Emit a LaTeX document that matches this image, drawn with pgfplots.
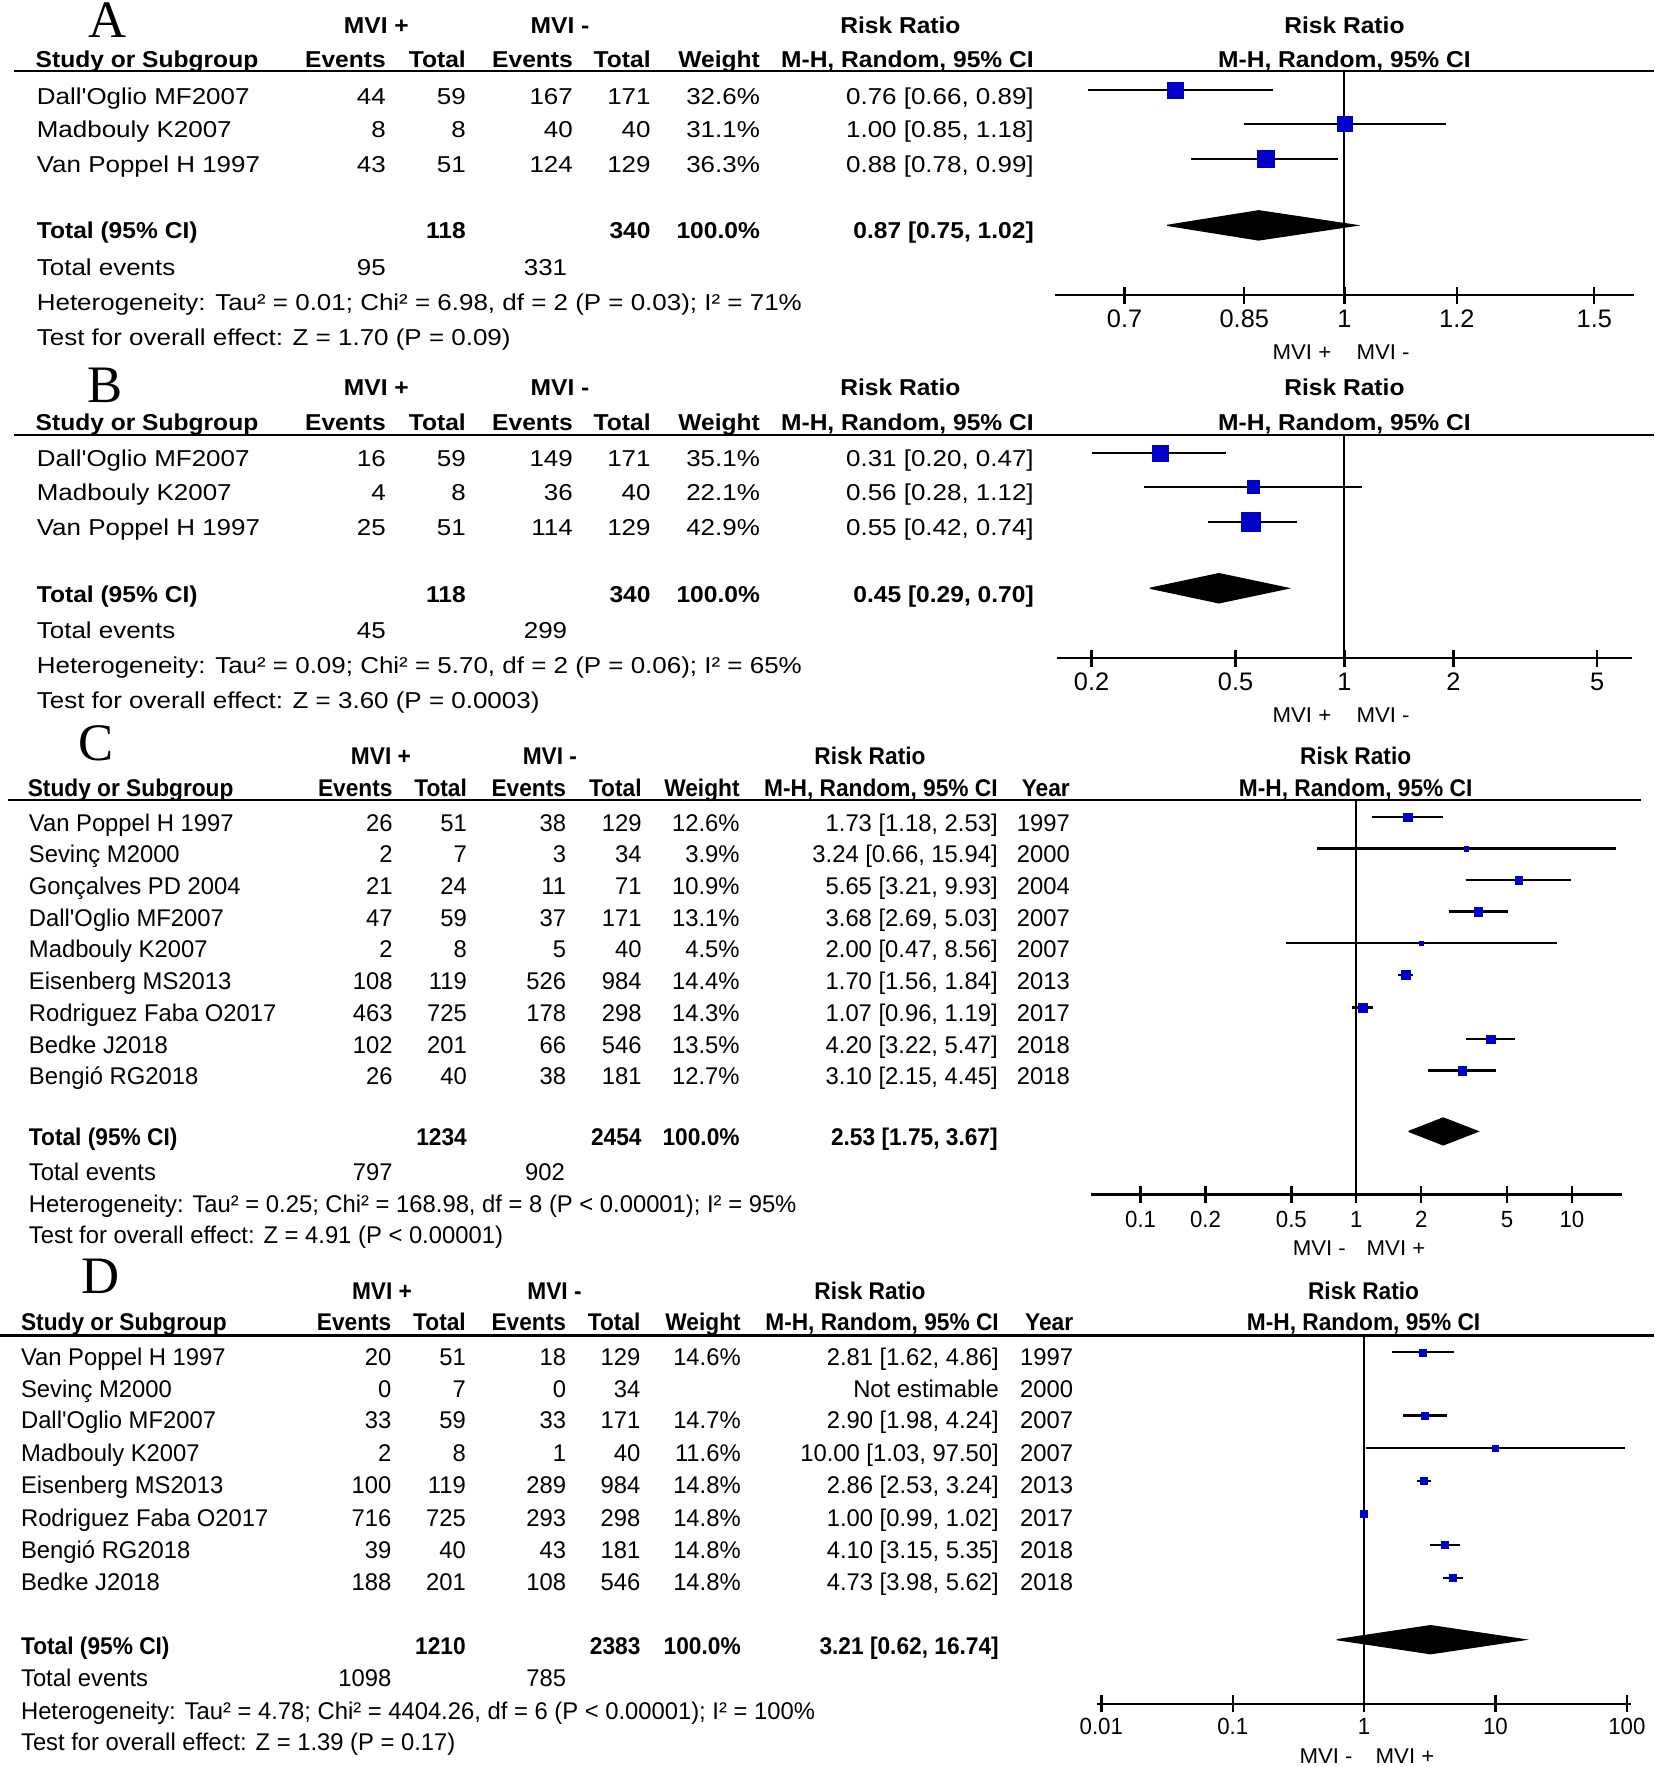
\documentclass[border=0pt]{standalone}
\usepackage{pgfplots}
\pgfplotsset{compat=1.18}
\usepackage{fontspec}
\setmainfont{Liberation Sans}
\newfontfamily\fA[FakeStretch=1.13,Ligatures=TeXOff]{Liberation Sans}
\newfontfamily\fAb[FakeStretch=1.07,Ligatures=TeXOff]{Liberation Sans}
\newfontfamily\fC[FakeStretch=0.985,Ligatures=TeXOff]{Liberation Sans}
\newfontfamily\fCb[FakeStretch=0.94,Ligatures=TeXOff]{Liberation Sans}
\newfontfamily\fT{Liberation Sans}
\newfontfamily\fS[FakeStretch=0.95]{Liberation Sans}
\newfontfamily\fM[FakeStretch=1.04]{Liberation Sans}
\newfontfamily\fL{Liberation Serif}
\definecolor{sqblue}{RGB}{0,0,200}

\newcommand\hA{\fA\fontsize{5.8}{7}\selectfont}
\newcommand\bA{\fAb\bfseries\fontsize{5.8}{7}\selectfont}
\newcommand\hC{\fC\fontsize{6.1}{7}\selectfont}
\newcommand\bC{\fCb\bfseries\fontsize{6.1}{7}\selectfont}
\newcommand\tkA{\fT\fontsize{6.4}{7}\selectfont}
\newcommand\tkC{\fS\fontsize{5.9}{7}\selectfont}
\newcommand\mvi{\fM\fontsize{5.4}{6}\selectfont}
\newcommand\letter{\fL\fontsize{13.3}{14}\selectfont}

% text helpers, y = visual centre of the line in pixel units
\newcommand\Lt[3]{\node[anchor=base west,inner sep=0pt] at (#1,#2+\bo) {#3};}
\newcommand\Rt[3]{\node[anchor=base east,inner sep=0pt] at (#1,#2+\bo) {#3};}
\newcommand\Ct[3]{\node[anchor=base,inner sep=0pt] at (#1,#2+\bo) {#3};}
\newcommand\rowx[9]{\Lt{\cn}{#1}{#2}\Rt{\ca}{#1}{#3}\Rt{\cb}{#1}{#4}\Rt{\cc}{#1}{#5}%
  \Rt{\cd}{#1}{#6}\Rt{\ce}{#1}{#7}\Rt{\cf}{#1}{#8}\Rt{\cg}{#1}{#9}}

% one study: y, lower, upper, estimate, half side of square (pt)
\newcommand\study[5]{%
  \addplot[black,line width=0.6pt] coordinates {(#2,-#1) (#3,-#1)};
  \addplot[only marks,mark=square*,mark size=#5pt,
    mark options={fill=sqblue,draw=sqblue,line width=0.1pt}] coordinates {(#4,-#1)};
}

\pgfplotsset{
  scale only axis, enlargelimits=false, clip=false,
  axis x line*=bottom, axis y line=none, ytick=\empty,
  axis line style={line width=0.6pt},
  tick align=center, major tick length=1.5mm,
  xtick style={line width=0.6pt,black}, xminorticks=false,
  xticklabel style={anchor=base,inner sep=0pt},
}

\begin{document}
\begin{tikzpicture}

%% ---------------- A ----------------
\begin{scope}[x=0.1mm,y=-0.1mm,font=\hA]
\def\bo{7.3}
\def\cn{32}\def\ca{343}\def\cb{414}\def\cc{509}\def\cd{578}\def\ce{675}\def\cf{918}\def\cg{0}
\node[anchor=base,inner sep=0pt,font=\letter] at (95,33.5) {A};
\Ct{334}{22}{\bA MVI +}\Ct{497}{22}{\bA MVI -}\Ct{799}{22}{\bA Risk Ratio}\Ct{1193}{22}{\bA Risk Ratio}
\Lt{31}{53}{\bA Study or Subgroup}\Rt{\ca}{53}{\bA Events}\Rt{\cb}{53}{\bA Total}
\Rt{\cc}{53}{\bA Events}\Rt{\cd}{53}{\bA Total}\Rt{\ce}{53}{\bA Weight}
\Rt{\cf}{53}{\bA M-H, Random, 95\% CI}\Ct{1193}{53}{\bA M-H, Random, 95\% CI}
\draw[line width=0.6pt] (12,63) -- (1468,63);
\rowx{85}{Dall'Oglio MF2007}{44}{59}{167}{171}{32.6\%}{0.76 [0.66, 0.89]}{}
\rowx{115}{Madbouly K2007}{8}{8}{40}{40}{31.1\%}{1.00 [0.85, 1.18]}{}
\rowx{146}{Van Poppel H 1997}{43}{51}{124}{129}{36.3\%}{0.88 [0.78, 0.99]}{}
\Lt{\cn}{204}{\bA Total (95\% CI)}\Rt{\cb}{204}{\bA 118}\Rt{\cd}{204}{\bA 340}
\Rt{\ce}{204}{\bA 100.0\%}\Rt{\cf}{204}{\bA 0.87 [0.75, 1.02]}
\Lt{\cn}{237}{Total events}\Rt{\ca}{237}{95}\Rt{504}{237}{331}
\Lt{\cn}{268}{Heterogeneity: Tau² = 0.01; Chi² = 6.98, df = 2 (P = 0.03); I² = 71\%}
\Lt{\cn}{299}{Test for overall effect: Z = 1.70 (P = 0.09)}
\Rt{1182}{312}{\mvi MVI +}\Lt{1203}{312}{\mvi MVI -}
\end{scope}
\begin{axis}[xmode=log, at={(93.6mm,-26.2mm)}, anchor=south west,
  width=51.4mm, height=19.9mm, xmin=0.625, xmax=1.6, ymin=-262, ymax=-63,
  xtick={0.7,0.85,1,1.2,1.5}, xticklabels={0.7,0.85,1,1.2,1.5},
  xticklabel style={font=\tkA, yshift=-2.1mm}]
\addplot[black,line width=0.5pt] coordinates {(1,-63) (1,-262)};
\study{80}{0.66}{0.89}{0.76}{1.92}
\study{110}{0.85}{1.18}{1.00}{1.92}
\study{141}{0.78}{0.99}{0.88}{2.1}
\addplot[fill=black,draw=black,line width=0.3pt] coordinates
  {(0.75,-200) (0.87,-187) (1.02,-200) (0.87,-213) (0.75,-200)};
\end{axis}

%% ---------------- B ----------------
\begin{scope}[x=0.1mm,y=-0.1mm,font=\hA]
\def\bo{7.3}
\def\cn{32}\def\ca{343}\def\cb{414}\def\cc{509}\def\cd{578}\def\ce{675}\def\cf{918}\def\cg{0}
\node[anchor=base,inner sep=0pt,font=\letter] at (93,357) {B};
\Ct{334}{344}{\bA MVI +}\Ct{497}{344}{\bA MVI -}\Ct{799}{344}{\bA Risk Ratio}\Ct{1193}{344}{\bA Risk Ratio}
\Lt{31}{375}{\bA Study or Subgroup}\Rt{\ca}{375}{\bA Events}\Rt{\cb}{375}{\bA Total}
\Rt{\cc}{375}{\bA Events}\Rt{\cd}{375}{\bA Total}\Rt{\ce}{375}{\bA Weight}
\Rt{\cf}{375}{\bA M-H, Random, 95\% CI}\Ct{1193}{375}{\bA M-H, Random, 95\% CI}
\draw[line width=0.6pt] (12,386) -- (1468,386);
\rowx{407}{Dall'Oglio MF2007}{16}{59}{149}{171}{35.1\%}{0.31 [0.20, 0.47]}{}
\rowx{437}{Madbouly K2007}{4}{8}{36}{40}{22.1\%}{0.56 [0.28, 1.12]}{}
\rowx{468}{Van Poppel H 1997}{25}{51}{114}{129}{42.9\%}{0.55 [0.42, 0.74]}{}
\Lt{\cn}{527}{\bA Total (95\% CI)}\Rt{\cb}{527}{\bA 118}\Rt{\cd}{527}{\bA 340}
\Rt{\ce}{527}{\bA 100.0\%}\Rt{\cf}{527}{\bA 0.45 [0.29, 0.70]}
\Lt{\cn}{559}{Total events}\Rt{\ca}{559}{45}\Rt{504}{559}{299}
\Lt{\cn}{590}{Heterogeneity: Tau² = 0.09; Chi² = 5.70, df = 2 (P = 0.06); I² = 65\%}
\Lt{\cn}{621}{Test for overall effect: Z = 3.60 (P = 0.0003)}
\Rt{1182}{634}{\mvi MVI +}\Lt{1203}{634}{\mvi MVI -}
\end{scope}
\begin{axis}[xmode=log, at={(93.75mm,-58.4mm)}, anchor=south west,
  width=51.1mm, height=19.8mm, xmin=0.16, xmax=6.25, ymin=-584, ymax=-386,
  xtick={0.2,0.5,1,2,5}, xticklabels={0.2,0.5,1,2,5},
  xticklabel style={font=\tkA, yshift=-2.1mm}]
\addplot[black,line width=0.5pt] coordinates {(1,-386) (1,-584)};
\study{402}{0.20}{0.47}{0.31}{2.0}
\study{432}{0.28}{1.12}{0.56}{1.56}
\study{463}{0.42}{0.74}{0.55}{2.43}
\addplot[fill=black,draw=black,line width=0.3pt] coordinates
  {(0.29,-522) (0.45,-509) (0.70,-522) (0.45,-535) (0.29,-522)};
\end{axis}

%% ---------------- C ----------------
\begin{scope}[x=0.1mm,y=-0.1mm,font=\hC]
\def\bo{7.7}
\def\cn{25}\def\ca{349}\def\cb{415}\def\cc{503}\def\cd{570}\def\ce{657}\def\cf{886}\def\cg{950}
\node[anchor=base,inner sep=0pt,font=\letter] at (85,675) {C};
\Ct{338}{671}{\bC MVI +}\Ct{488}{671}{\bC MVI -}\Ct{772}{671}{\bC Risk Ratio}\Ct{1203}{671}{\bC Risk Ratio}
\Lt{24}{699}{\bC Study or Subgroup}\Rt{\ca}{699}{\bC Events}\Rt{\cb}{699}{\bC Total}
\Rt{\cc}{699}{\bC Events}\Rt{\cd}{699}{\bC Total}\Rt{\ce}{699}{\bC Weight}
\Rt{\cf}{699}{\bC M-H, Random, 95\% CI}\Rt{\cg}{699}{\bC Year}\Ct{1203}{699}{\bC M-H, Random, 95\% CI}
\draw[line width=0.6pt] (7,710) -- (1456,710);
\rowx{730}{Van Poppel H 1997}{26}{51}{38}{129}{12.6\%}{1.73 [1.18, 2.53]}{1997}
\rowx{758}{Sevinç M2000}{2}{7}{3}{34}{3.9\%}{3.24 [0.66, 15.94]}{2000}
\rowx{786}{Gonçalves PD 2004}{21}{24}{11}{71}{10.9\%}{5.65 [3.21, 9.93]}{2004}
\rowx{814}{Dall'Oglio MF2007}{47}{59}{37}{171}{13.1\%}{3.68 [2.69, 5.03]}{2007}
\rowx{842}{Madbouly K2007}{2}{8}{5}{40}{4.5\%}{2.00 [0.47, 8.56]}{2007}
\rowx{870}{Eisenberg MS2013}{108}{119}{526}{984}{14.4\%}{1.70 [1.56, 1.84]}{2013}
\rowx{899}{Rodriguez Faba O2017}{463}{725}{178}{298}{14.3\%}{1.07 [0.96, 1.19]}{2017}
\rowx{927}{Bedke J2018}{102}{201}{66}{546}{13.5\%}{4.20 [3.22, 5.47]}{2018}
\rowx{955}{Bengió RG2018}{26}{40}{38}{181}{12.7\%}{3.10 [2.15, 4.45]}{2018}
\Lt{\cn}{1009}{\bC Total (95\% CI)}\Rt{\cb}{1009}{\bC 1234}\Rt{\cd}{1009}{\bC 2454}
\Rt{\ce}{1009}{\bC 100.0\%}\Rt{\cf}{1009}{\bC 2.53 [1.75, 3.67]}
\Lt{\cn}{1040}{Total events}\Rt{\ca}{1040}{797}\Rt{502}{1040}{902}
\Lt{\cn}{1068}{Heterogeneity: Tau² = 0.25; Chi² = 168.98, df = 8 (P < 0.00001); I² = 95\%}
\Lt{\cn}{1096}{Test for overall effect: Z = 4.91 (P < 0.00001)}
\Rt{1195}{1106}{\mvi MVI -}\Lt{1212}{1106}{\mvi MVI +}
\end{scope}
\begin{axis}[xmode=log, at={(96.8mm,-106.0mm)}, anchor=south west,
  width=47.1mm, height=35.0mm, xmin=0.0588, xmax=17, ymin=-1060, ymax=-710,
  xtick={0.1,0.2,0.5,1,2,5,10}, xticklabels={0.1,0.2,0.5,1,2,5,10},
  xticklabel style={font=\tkC, yshift=-2.2mm}]
\addplot[black,line width=0.5pt] coordinates {(1,-710) (1,-1060)};
\study{725}{1.18}{2.53}{1.73}{1.05}
\study{753}{0.66}{15.94}{3.24}{0.57}
\study{781}{3.21}{9.93}{5.65}{0.95}
\study{809}{2.69}{5.03}{3.68}{1.05}
\study{837}{0.47}{8.56}{2.00}{0.6}
\study{865}{1.56}{1.84}{1.70}{1.1}
\study{894}{0.96}{1.19}{1.07}{1.1}
\study{922}{3.22}{5.47}{4.20}{1.05}
\study{950}{2.15}{4.45}{3.10}{1.05}
\addplot[fill=black,draw=black,line width=0.3pt] coordinates
  {(1.75,-1004) (2.53,-992) (3.67,-1004) (2.53,-1016) (1.75,-1004)};
\end{axis}

%% ---------------- D ----------------
\begin{scope}[x=0.1mm,y=-0.1mm,font=\hC]
\def\bo{7.7}
\def\cn{18}\def\ca{348}\def\cb{414}\def\cc{503}\def\cd{569}\def\ce{658}\def\cf{887}\def\cg{953}
\node[anchor=base,inner sep=0pt,font=\letter] at (89.5,1147.5) {D};
\Ct{339}{1145}{\bC MVI +}\Ct{492}{1145}{\bC MVI -}\Ct{772}{1145}{\bC Risk Ratio}\Ct{1210}{1145}{\bC Risk Ratio}
\Lt{18}{1173}{\bC Study or Subgroup}\Rt{\ca}{1173}{\bC Events}\Rt{\cb}{1173}{\bC Total}
\Rt{\cc}{1173}{\bC Events}\Rt{\cd}{1173}{\bC Total}\Rt{\ce}{1173}{\bC Weight}
\Rt{\cf}{1173}{\bC M-H, Random, 95\% CI}\Rt{\cg}{1173}{\bC Year}\Ct{1210}{1173}{\bC M-H, Random, 95\% CI}
\draw[line width=0.6pt] (0,1185) -- (1468,1185);
\rowx{1204}{Van Poppel H 1997}{20}{51}{18}{129}{14.6\%}{2.81 [1.62, 4.86]}{1997}
\rowx{1232}{Sevinç M2000}{0}{7}{0}{34}{}{Not estimable}{2000}
\rowx{1260}{Dall'Oglio MF2007}{33}{59}{33}{171}{14.7\%}{2.90 [1.98, 4.24]}{2007}
\rowx{1289}{Madbouly K2007}{2}{8}{1}{40}{11.6\%}{10.00 [1.03, 97.50]}{2007}
\rowx{1318}{Eisenberg MS2013}{100}{119}{289}{984}{14.8\%}{2.86 [2.53, 3.24]}{2013}
\rowx{1347}{Rodriguez Faba O2017}{716}{725}{293}{298}{14.8\%}{1.00 [0.99, 1.02]}{2017}
\rowx{1375}{Bengió RG2018}{39}{40}{43}{181}{14.8\%}{4.10 [3.15, 5.35]}{2018}
\rowx{1404}{Bedke J2018}{188}{201}{108}{546}{14.8\%}{4.73 [3.98, 5.62]}{2018}
\Lt{\cn}{1460}{\bC Total (95\% CI)}\Rt{\cb}{1460}{\bC 1210}\Rt{\cd}{1460}{\bC 2383}
\Rt{\ce}{1460}{\bC 100.0\%}\Rt{\cf}{1460}{\bC 3.21 [0.62, 16.74]}
\Lt{\cn}{1489}{Total events}\Rt{\ca}{1489}{1098}\Rt{503}{1489}{785}
\Lt{\cn}{1518}{Heterogeneity: Tau² = 4.78; Chi² = 4404.26, df = 6 (P < 0.00001); I² = 100\%}
\Lt{\cn}{1546}{Test for overall effect: Z = 1.39 (P = 0.17)}
\Rt{1201}{1557}{\mvi MVI -}\Lt{1220}{1557}{\mvi MVI +}
\end{scope}
\begin{axis}[xmode=log, at={(97.36mm,-151.2mm)}, anchor=south west,
  width=47.35mm, height=32.7mm, xmin=0.0093, xmax=107, ymin=-1512, ymax=-1185,
  xtick={0.01,0.1,1,10,100}, xticklabels={0.01,0.1,1,10,100},
  xticklabel style={font=\tkC, yshift=-2.0mm}]
\addplot[black,line width=0.5pt] coordinates {(1,-1185) (1,-1512)};
\study{1200}{1.62}{4.86}{2.81}{0.9}
\study{1256}{1.98}{4.24}{2.90}{0.9}
\study{1285}{1.03}{97.50}{10.00}{0.8}
\study{1314}{2.53}{3.24}{2.86}{0.9}
\study{1343}{0.99}{1.02}{1.00}{0.9}
\study{1371}{3.15}{5.35}{4.10}{0.9}
\study{1400}{3.98}{5.62}{4.73}{0.9}
\addplot[fill=black,draw=black,line width=0.3pt] coordinates
  {(0.62,-1455) (3.21,-1442.5) (16.74,-1455) (3.21,-1467.5) (0.62,-1455)};
\end{axis}

\pgfresetboundingbox
\path (0,0) rectangle (146.8mm,-156.8mm);
\end{tikzpicture}
\end{document}
